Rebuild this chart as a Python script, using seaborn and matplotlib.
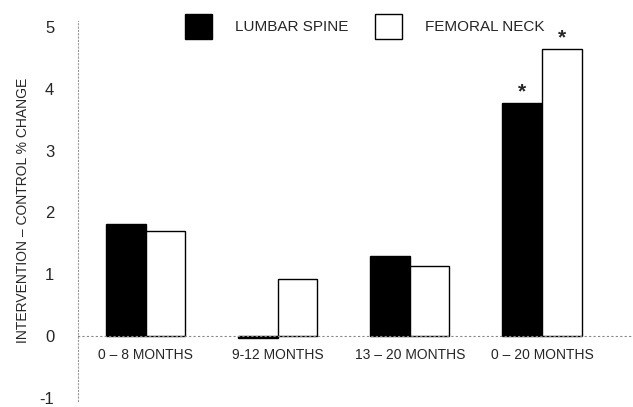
import matplotlib
matplotlib.use("Agg")
import matplotlib.pyplot as plt
import seaborn as sns
import pandas as pd
from matplotlib.patches import Patch

periods = ["0 \u2013 8 MONTHS", "9-12 MONTHS", "13 \u2013 20 MONTHS", "0 \u2013 20 MONTHS"]
sites = ["LUMBAR SPINE", "FEMORAL NECK"]
lumbar_spine = [1.81, -0.04, 1.30, 3.77]
femoral_neck = [1.70, 0.92, 1.13, 4.64]
significant = [False, False, False, True]
y_ticks = [-1, 0, 1, 2, 3, 4, 5]

df = pd.DataFrame({
    "period": periods * 2,
    "site": [sites[0]] * 4 + [sites[1]] * 4,
    "change": lumbar_spine + femoral_neck,
})

sns.set_style("white")
plt.rcParams["font.family"] = ["Liberation Sans", "DejaVu Sans"]
plt.rcParams["axes.unicode_minus"] = False

fig = plt.figure(figsize=(6.33, 4.07), dpi=100)
ax = fig.add_axes([0.123, 0.015, 0.877, 0.934])

sns.barplot(data=df, x="period", y="change", hue="site", order=periods,
            hue_order=sites, palette=["black", "white"], width=0.6,
            edgecolor="black", linewidth=1.0, saturation=1, ax=ax, legend=False)

# stars over significant bars
for container in ax.containers:
    for bar, sig in zip(container, significant):
        if sig:
            ax.annotate("*", (bar.get_x() + bar.get_width() / 2, bar.get_height()),
                        xytext=(0, 1), textcoords="offset points",
                        ha="center", va="bottom", fontsize=15, fontweight="bold")

ax.set_xlim(-0.515, 3.69)
ax.set_ylim(-1.05, 5.1)
ax.set_yticks(y_ticks)
ax.set_yticklabels([str(t) for t in y_ticks])
ax.set_xlabel("")
ax.set_ylabel("INTERVENTION \u2013 CONTROL % CHANGE", fontsize=10, labelpad=7)

for side in ["top", "right"]:
    ax.spines[side].set_visible(False)
ax.spines["left"].set_linestyle((0, (1, 2)))
ax.spines["left"].set_color("#999999")
ax.spines["left"].set_linewidth(0.8)
ax.spines["bottom"].set_position(("data", 0))
ax.spines["bottom"].set_linestyle((0, (1, 3)))
ax.spines["bottom"].set_color("#888888")
ax.spines["bottom"].set_linewidth(0.8)

ax.tick_params(axis="y", length=4, color="#bbbbbb", labelsize=12, pad=13)
ax.tick_params(axis="x", length=0, labelsize=10, pad=9)

handles = [Patch(facecolor="black", edgecolor="black", label=sites[0]),
           Patch(facecolor="white", edgecolor="black", label=sites[1])]
fig.legend(handles=handles, loc="upper center", bbox_to_anchor=(0.576, 1.0),
           ncol=2, frameon=False, fontsize=11, handlelength=1.8, handleheight=2.2,
           handletextpad=1.5, columnspacing=1.7)

fig.savefig("out.png", dpi=100)
